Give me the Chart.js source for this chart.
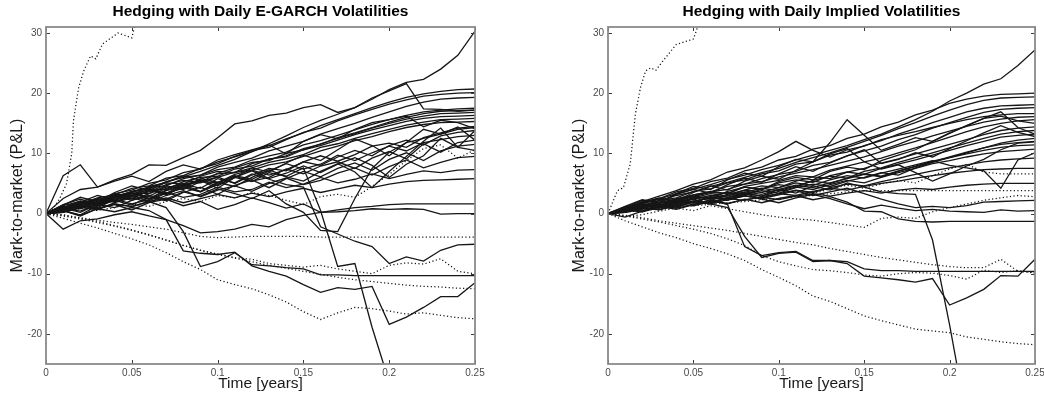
<!DOCTYPE html>
<html>
<head>
<meta charset="utf-8">
<script src="https://cdn.jsdelivr.net/npm/chart.js@4.4.0/dist/chart.umd.min.js"></script>
<style>
  html, body { margin: 0; padding: 0; background: #fff; }
  #wrap { position: relative; width: 1044px; height: 396px; overflow: hidden; }
  canvas { position: absolute; top: 0; }
  #egarch { left: 0; }
  #implied { left: 522px; }
</style>
</head>
<body>
<div id="wrap">
  <canvas id="egarch" width="522" height="396"></canvas>
  <canvas id="implied" width="522" height="396"></canvas>
</div>
<script>
// Daily sampling grid (years) shared by the hedging paths
const timeGrid = [0,0.01,0.02,0.03,0.04,0.05,0.06,0.07,0.08,0.09,0.1,0.11,0.12,0.13,0.14,0.15,0.16,0.17,0.18,0.19,0.2,0.21,0.22,0.23,0.24,0.25];
const timeTicks = [0, 0.05, 0.1, 0.15, 0.2, 0.25];
const timeTickLabels = ['0', '0.05', '0.1', '0.15', '0.2', '0.25'];
const pnlTicks = [-20, -10, 0, 10, 20, 30];
const pnlTickLabels = ['-20', '-10', '0', '10', '20', '30'];

// Mark-to-market P&L paths, E-GARCH volatility hedge (solid lines)
const egarchSolid = [
  [0,0.8,1.5,2.3,2.8,3.6,4.4,5.2,6.1,7.0,8.0,9.0,10.3,11.6,12.9,14.3,15.5,16.5,17.6,19.0,20.6,21.8,22.3,24.0,26.3,30.3],
  [0,2.5,4.0,4.4,5.6,6.5,8.1,8.0,9.3,10.5,12.6,14.9,15.4,16.3,16.7,17.6,18.1,16.8,17.6,19.2,20.4,21.6,17.4,17.3,17.0,17.2],
  [0,6.3,8.1,4.4,5.4,6.2,5.3,7.0,8.1,7.4,8.9,9.8,10.6,11.4,9.9,12.0,13.1,12.4,14.0,15.1,15.6,16.2,14.4,15.5,15.1,14.1],
  [0,0.6,1.5,2.2,3.3,3.9,5.0,5.6,6.8,7.4,8.6,9.4,10.3,11.3,12.4,13.4,14.6,15.6,16.6,17.6,18.5,19.3,19.9,20.3,20.6,20.7],
  [0,1.0,1.6,2.6,3.1,4.2,4.6,5.9,6.3,7.5,8.3,9.5,10.5,11.0,12.3,13.5,14.2,15.4,16.4,17.3,18.2,18.9,19.5,19.8,20.0,20.1],
  [0,0.4,1.4,1.7,2.9,3.6,4.1,5.3,6.0,6.4,7.7,8.5,9.2,10.4,11.2,12.0,13.2,14.1,15.0,16.0,16.9,17.8,18.5,19.0,19.2,19.3],
  [0,0.8,1.2,2.3,2.6,3.7,4.3,4.6,5.8,6.4,7.3,7.7,8.9,9.6,10.2,11.4,12.1,13.0,13.9,14.8,15.6,16.3,16.9,17.2,17.4,17.5],
  [0,1.3,2.0,1.8,3.2,3.0,4.5,5.1,4.9,6.2,7.0,6.8,8.3,9.0,9.6,10.8,11.5,12.6,13.4,14.3,15.2,16.0,16.6,17.0,17.1,17.2],
  [0,0.2,0.9,1.9,2.0,2.9,3.6,4.8,5.5,5.2,6.7,7.6,8.5,8.8,10.0,10.6,11.6,12.5,13.3,14.2,15.0,15.7,16.2,16.6,16.7,16.8],
  [0,0.9,1.1,1.6,2.7,2.5,3.9,4.0,5.3,6.0,6.2,7.4,7.9,9.1,9.4,10.6,11.3,12.2,13.1,13.9,14.6,15.3,15.8,16.1,16.2,16.3],
  [0,0.5,1.7,2.4,2.1,3.4,3.3,4.4,4.7,5.7,6.6,6.8,7.6,8.5,9.1,9.8,11.0,11.6,12.5,13.3,14.0,14.7,15.2,15.6,15.7,15.8],
  [0,1.1,0.8,2.0,2.8,3.1,2.9,4.2,5.0,5.1,6.0,6.9,7.2,8.1,8.6,9.5,10.4,11.2,12.1,12.8,13.6,14.3,14.8,15.1,15.2,15.3],
  [0,0.7,2.0,1.4,2.2,3.3,3.9,3.1,4.6,5.4,5.1,6.5,7.2,6.4,7.3,8.6,9.6,8.7,9.8,11.2,11.7,11.0,12.6,13.4,14.2,14.5],
  [0,1.2,0.9,1.8,3.0,2.2,3.3,4.6,4.0,5.3,6.1,5.0,6.4,7.5,7.1,8.6,8.0,9.4,10.5,9.6,11.3,12.2,11.4,12.9,13.5,13.8],
  [0,0.3,1.6,2.5,1.9,2.8,4.1,3.4,4.2,5.8,5.2,6.3,5.7,7.1,8.3,7.4,8.2,9.7,8.8,10.1,11.2,10.4,11.8,12.3,12.8,13.0],
  [0,1.5,2.4,1.6,2.7,3.5,2.4,3.8,4.5,3.6,5.0,6.2,5.4,6.0,7.4,6.6,7.9,8.6,7.5,9.2,10.3,9.1,11.6,10.2,11.8,12.2],
  [0,0.5,-0.2,1.3,2.2,1.4,2.8,2.1,3.5,4.4,3.2,4.7,5.6,4.3,5.8,7.0,6.1,7.5,8.4,7.2,9.0,10.1,8.8,10.4,11.2,11.5],
  [0,1.0,1.9,3.0,2.3,3.6,4.2,3.1,4.5,5.6,4.6,6.0,7.1,5.8,6.7,7.9,6.8,8.2,9.3,8.0,6.0,8.2,9.6,12.5,11.0,10.5],
  [0,0.2,1.1,0.6,1.8,2.6,1.9,3.0,3.8,2.8,3.9,4.6,3.7,5.0,5.9,4.8,5.5,6.7,7.6,6.4,7.8,8.9,7.6,8.5,9.3,9.5],
  [0,0.9,0.4,1.5,2.4,1.6,2.3,3.5,2.7,3.2,4.4,3.6,4.0,5.2,4.3,4.9,6.0,5.1,5.7,6.6,5.8,6.5,7.1,6.8,7.2,7.3],
  [0,0.4,1.3,0.8,1.6,1.1,2.0,2.6,1.8,2.5,3.2,2.6,3.4,2.8,3.6,4.2,3.5,4.1,4.7,4.3,4.9,5.3,5.5,5.6,5.7,5.8],
  [0,0.6,1.8,1.2,2.6,3.4,2.5,3.9,4.8,3.7,5.2,4.5,6.0,7.3,6.1,5.4,7.0,8.3,6.9,4.3,7.0,9.5,12.0,14.2,11.0,13.8],
  [0,1.4,2.7,2.0,3.5,4.6,3.8,5.2,6.3,5.5,4.2,6.0,7.6,6.9,8.4,9.7,8.8,10.6,12.4,11.3,9.6,11.8,14.0,13.2,14.4,12.2],
  [0,0.9,0.2,1.5,1.0,2.2,3.0,2.4,3.6,2.9,4.1,3.3,2.5,3.8,1.6,0.2,-2.8,-3.0,2.5,7.5,10.2,11.8,12.5,13.2,14.0,14.3],
  [0,0.5,-0.4,0.8,1.5,0.6,1.8,2.4,1.3,2.0,0.7,1.5,2.6,1.8,0.9,1.6,0.2,0.6,1.0,1.2,1.5,1.6,1.6,1.6,1.6,1.6],
  [0,-2.6,-1.2,-0.9,-0.2,0.3,-0.4,-1.0,-2.0,-3.2,-3.0,-2.6,-1.8,-2.2,-1.0,-0.3,0.2,0.3,0.5,0.8,0.7,0.8,0.7,-0.1,0.0,0.0],
  [0,0.5,1.4,1.0,2.3,3.0,2.1,3.4,4.3,3.6,4.8,6.0,5.3,6.8,6.2,7.6,0.5,-8.8,-8.3,-18.9,-28.0],
  [0,1.0,2.1,1.4,2.9,2.4,3.8,3.3,4.9,4.2,5.8,5.1,6.6,5.7,4.8,4.4,-2.2,-3.4,-4.6,-5.5,-8.3,-7.2,-7.9,-6.1,-5.2,-5.1],
  [0,0.3,1.0,0.8,1.6,1.2,2.0,1.0,-3.0,-8.8,-8.0,-6.5,-8.5,-8.7,-9.0,-9.2,-10.2,-10.2,-10.3,-10.3,-10.3,-10.3,-10.3,-10.3,-10.3,-10.3],
  [0,0.5,-0.3,0.8,0.3,1.0,0.5,-1.0,-6.2,-6.6,-6.8,-6.4,-8.7,-9.6,-10.4,-11.8,-13.1,-12.3,-12.6,-12.1,-18.4,-17.2,-15.6,-13.8,-13.8,-11.5]
];

// E-GARCH hedge paths drawn dotted
const egarchDotted = [
  [0,-0.3,-0.7,-1.1,-1.5,-1.8,-2.2,-2.6,-3.2,-3.8,-4.0,-3.9,-3.8,-3.8,-3.8,-3.8,-3.9,-3.9,-3.9,-3.9,-3.9,-3.9,-3.9,-3.9,-3.9,-3.9],
  [0,-0.2,-0.8,-1.3,-2.0,-2.7,-3.5,-4.4,-5.3,-6.1,-6.7,-7.3,-7.6,-8.3,-8.6,-8.9,-8.6,-9.2,-9.6,-10.0,-8.6,-8.2,-8.4,-7.5,-9.6,-10.0],
  [0,-0.8,-1.6,-2.4,-3.3,-4.2,-5.2,-6.5,-8.0,-9.3,-11.0,-11.8,-12.5,-13.5,-14.7,-16.3,-17.6,-16.5,-15.6,-15.8,-16.2,-16.7,-16.5,-16.9,-17.3,-17.5],
  [0,-0.4,-0.9,-1.5,-2.1,-2.8,-3.6,-4.4,-5.3,-6.1,-6.8,-7.4,-8.0,-8.6,-9.1,-9.6,-10.1,-10.6,-11.0,-11.3,-11.6,-11.9,-12.1,-12.2,-12.4,-12.5],
  [0,0.3,0.8,0.5,1.0,1.6,1.2,2.0,2.5,2.0,3.0,2.6,3.5,3.0,2.2,1.5,2.8,3.2,2.7,4.5,6.5,8.8,10.8,11.4,9.2,10.6]
];
// E-GARCH path that runs off the top early (own time stamps)
const egarchSpikeTime = [0,0.004,0.008,0.012,0.015,0.016,0.019,0.022,0.026,0.029,0.033,0.042,0.05,0.052,0.055];
const egarchSpikeValue = [0,0.8,2.5,5.0,10.0,15.4,20.9,23.7,26.2,25.7,28.2,30.0,29.2,31.5,34.0];

// Mark-to-market P&L paths, implied volatility hedge (solid lines)
const impliedSolid = [
  [0,0.8,1.6,2.4,3.3,4.0,4.8,5.7,6.4,7.3,8.0,8.9,9.7,10.5,11.3,12.3,13.2,14.4,15.6,17.0,18.7,20.0,21.5,22.4,24.6,27.2],
  [0,0.9,1.9,2.5,3.6,4.2,5.3,5.9,7.1,7.7,8.9,9.5,10.7,11.3,12.5,13.2,14.4,15.2,16.4,17.2,18.3,19.0,19.5,19.8,19.9,20.0],
  [0,0.8,2.0,2.9,3.8,4.9,5.6,6.9,7.6,8.9,10.3,12.0,10.5,9.4,10.6,11.2,12.3,13.0,13.6,14.3,15.0,15.6,16.1,16.4,16.6,16.6],
  [0,1.0,2.2,1.8,3.3,4.5,4.0,5.6,6.7,6.2,7.8,9.0,8.6,11.8,15.6,13.0,10.5,11.5,12.6,12.0,13.4,14.6,15.8,16.9,14.3,13.2],
  [0,0.6,1.4,2.1,3.0,3.6,4.5,5.2,6.0,6.8,7.5,8.5,9.3,10.1,11.0,12.0,13.0,14.1,15.1,16.2,17.2,18.1,18.8,19.2,19.3,19.4],
  [0,0.8,1.2,2.2,2.6,3.7,4.1,5.1,5.6,6.6,7.1,8.2,8.6,9.7,10.2,11.3,12.1,13.2,14.1,15.1,16.0,16.9,17.5,17.9,18.0,18.1],
  [0,0.4,1.3,1.6,2.5,3.1,3.6,4.5,4.9,5.8,6.5,7.0,8.0,8.5,9.6,10.4,11.2,12.3,13.1,14.2,15.1,16.0,16.8,17.3,17.5,17.6],
  [0,0.7,1.5,1.1,2.3,2.9,2.5,3.7,4.4,4.0,5.3,6.0,5.6,7.0,7.7,7.3,8.8,9.7,10.6,12.0,13.3,14.6,15.8,16.2,15.4,15.0],
  [0,0.5,1.0,1.8,2.3,2.9,3.6,4.0,4.9,5.3,6.1,6.7,7.3,8.0,8.7,9.4,10.3,11.2,12.0,12.9,13.7,14.5,15.2,15.7,16.0,16.1],
  [0,0.9,1.6,1.3,2.4,2.8,3.5,3.3,4.5,5.0,5.5,6.3,6.1,7.2,7.9,8.6,9.2,10.1,10.9,11.8,12.7,13.6,14.4,15.0,15.4,15.6],
  [0,0.3,1.1,1.9,1.6,2.6,3.3,2.9,3.9,4.6,4.3,5.4,6.1,5.8,6.9,7.5,8.4,9.1,9.9,10.7,11.5,12.3,13.1,13.8,14.2,14.4],
  [0,0.6,0.4,1.4,2.2,1.9,2.8,3.5,3.0,4.1,4.8,4.4,5.5,6.2,5.9,7.0,7.6,8.5,9.3,10.1,10.9,11.7,12.5,13.2,13.6,13.8],
  [0,1.1,1.7,2.4,2.0,3.1,3.7,3.3,4.4,4.0,5.1,5.6,5.2,6.3,6.9,6.5,7.5,8.2,8.9,9.7,10.5,11.3,12.0,12.7,13.0,13.2],
  [0,0.2,0.8,1.5,1.2,2.0,2.7,2.3,3.2,3.8,3.4,4.3,4.9,4.5,5.4,6.0,6.8,6.4,7.6,8.5,9.3,10.1,10.9,11.7,12.2,12.5],
  [0,0.8,1.4,1.0,1.9,2.6,2.2,3.0,3.6,3.2,4.0,4.7,4.3,5.1,5.8,6.5,6.1,7.0,7.8,8.6,9.4,10.2,10.9,11.5,11.8,12.0],
  [0,0.5,1.2,1.9,1.6,2.4,3.0,2.7,3.5,4.2,3.8,4.6,5.4,5.0,5.9,6.6,6.2,7.1,7.9,8.7,9.3,9.9,10.5,11.0,11.3,11.4],
  [0,0.4,0.9,0.7,1.5,2.1,1.8,2.6,3.3,2.9,3.7,4.4,4.0,4.8,5.5,5.1,6.0,6.8,7.5,8.3,8.8,9.4,9.9,10.3,10.5,10.7],
  [0,0.7,1.5,1.2,2.0,2.8,2.4,3.2,3.9,3.5,4.3,5.1,4.7,5.6,6.3,5.9,6.7,7.4,8.1,8.8,8.0,7.6,7.1,4.2,8.9,10.1],
  [0,0.3,0.9,0.6,1.3,1.9,1.6,2.3,2.9,2.6,3.3,3.9,3.5,4.3,4.9,4.6,5.3,5.9,6.5,7.1,7.6,8.1,8.6,8.9,9.1,9.2],
  [0,0.6,0.3,1.0,1.6,1.3,2.0,2.5,2.2,2.8,3.3,3.0,3.7,4.2,3.9,4.5,5.0,5.4,5.9,6.3,6.7,7.0,7.3,7.4,7.5,7.5],
  [0,0.2,0.7,1.2,0.9,1.5,2.0,1.7,2.3,2.7,2.3,2.9,3.3,2.9,3.4,3.8,3.4,3.9,4.2,4.0,4.4,4.7,4.9,5.0,5.0,5.0],
  [0,1.2,2.3,1.8,3.2,4.0,3.4,4.8,5.9,5.2,6.6,7.8,7.0,8.4,9.6,10.6,8.3,9.0,10.1,9.4,10.8,12.1,13.4,14.6,13.5,12.8],
  [0,0.6,1.8,2.6,2.1,3.5,4.6,3.9,5.4,6.2,5.7,7.2,8.6,9.9,10.8,8.6,7.4,8.1,6.8,5.4,6.6,7.9,9.0,10.6,11.7,11.9],
  [0,0.6,1.3,0.9,1.8,2.4,1.7,2.6,3.3,2.5,3.1,3.8,3.0,3.6,4.2,3.3,2.4,1.6,1.0,1.2,1.0,1.3,1.9,2.0,2.1,2.2],
  [0,0.3,1.0,1.6,1.1,2.0,2.7,2.2,3.0,2.4,1.8,2.6,3.2,2.5,1.6,0.8,1.4,0.9,0.5,0.7,0.4,0.3,0.2,0.6,0.4,0.5],
  [0,-0.6,0.4,1.2,0.7,1.5,2.2,1.6,2.4,1.8,2.5,3.0,2.3,2.8,1.9,0.4,0.3,-0.9,-1.3,-1.4,-1.3,-1.3,-1.3,-1.3,-1.3,-1.3],
  [0,0.7,1.5,1.1,2.2,1.7,2.8,2.3,3.4,2.9,4.0,3.4,4.6,3.9,5.1,4.4,3.6,3.3,3.2,-4.4,-18.5,-34.0],
  [0,0.5,1.2,1.0,2.0,1.5,2.3,1.5,-5.5,-7.0,-6.5,-6.3,-7.8,-7.8,-8.0,-9.2,-9.5,-9.5,-9.6,-9.6,-9.6,-9.6,-9.6,-9.6,-9.6,-9.6],
  [0,0.8,0.3,1.4,0.9,2.1,1.6,1.0,-3.8,-7.3,-6.6,-6.4,-8.0,-7.8,-8.3,-10.4,-10.7,-11.0,-11.4,-10.8,-15.2,-14.0,-12.6,-10.3,-10.4,-7.6]
];

// Implied volatility hedge paths drawn dotted
const impliedDotted = [
  [0,0.4,0.9,0.6,1.3,1.9,1.5,2.3,2.9,2.4,3.2,3.8,3.3,4.1,4.7,4.2,4.9,5.5,5.1,6.3,7.4,8.2,6.9,6.6,6.6,6.6],
  [0,0.2,0.5,0.8,1.0,1.3,1.5,1.8,2.0,2.3,2.5,2.8,3.0,3.3,3.6,3.8,3.8,3.8,3.8,3.8,3.8,3.8,3.8,3.8,3.8,3.8],
  [0,-0.5,-0.2,0.4,0.9,0.5,1.3,0.8,0.3,-0.2,-0.6,-0.9,-1.1,-1.5,-1.9,-2.3,-0.8,-0.6,-0.8,0.3,1.0,1.6,2.2,2.6,3.0,2.8],
  [0,-0.3,-0.7,-1.2,-1.6,-2.0,-2.4,-2.8,-3.3,-3.8,-4.3,-4.8,-5.2,-5.8,-6.3,-6.8,-7.3,-7.7,-8.1,-8.5,-8.8,-9.0,-9.0,-7.6,-9.6,-9.9],
  [0,-0.4,-0.9,-1.4,-2.0,-2.6,-3.3,-4.2,-5.3,-7.0,-8.0,-8.7,-9.3,-9.5,-9.8,-10.2,-10.4,-10.0,-9.8,-9.9,-10.3,-10.9,-9.4,-9.8,-9.5,-9.8],
  [0,-1.2,-2.2,-3.2,-4.0,-5.0,-5.8,-6.7,-7.8,-9.3,-10.6,-12.0,-13.7,-14.6,-15.8,-17.0,-17.8,-18.5,-19.2,-19.5,-19.8,-20.5,-20.9,-21.3,-21.6,-21.8]
];
// Implied-vol path that runs off the top early (own time stamps)
const impliedSpikeTime = [0,0.0055,0.009,0.013,0.015,0.016,0.019,0.022,0.025,0.028,0.032,0.04,0.05,0.052,0.055];
const impliedSpikeValue = [0,3.8,4.3,8.2,13.7,16.5,20.9,23.7,24.2,23.8,25.3,28.1,29.0,30.6,34.0];

Chart.defaults.font.family = "'Liberation Sans', Arial, Helvetica, sans-serif";

function lineSet(times, values, dotted) {
  return {
    data: values.map((v, i) => ({ x: times[i], y: v })),
    borderColor: dotted ? '#151515' : '#161616',
    borderWidth: dotted ? 1.25 : 1.3,
    borderDash: dotted ? [1.2, 2.4] : [],
    pointRadius: 0,
    tension: 0,
    fill: false
  };
}

function buildDatasets(solid, dotted, spikeT, spikeV) {
  const sets = [];
  solid.forEach(v => sets.push(lineSet(timeGrid, v, false)));
  dotted.forEach(v => sets.push(lineSet(timeGrid, v, true)));
  sets.push(lineSet(spikeT, spikeV, true));
  return sets;
}

// Axes box with inward tick marks on all four sides
const axesBox = {
  id: 'axesBox',
  afterDatasetsDraw(chart) {
    const { ctx, chartArea: a, scales: { x, y } } = chart;
    ctx.save();
    ctx.strokeStyle = '#3a3a3a';
    ctx.lineWidth = 1;
    ctx.beginPath();
    x.ticks.forEach(t => {
      const px = Math.round(x.getPixelForValue(t.value)) + 0.5;
      ctx.moveTo(px, a.bottom); ctx.lineTo(px, a.bottom - 4);
      ctx.moveTo(px, a.top); ctx.lineTo(px, a.top + 4);
    });
    y.ticks.forEach(t => {
      const py = Math.round(y.getPixelForValue(t.value)) + 0.5;
      ctx.moveTo(a.left, py); ctx.lineTo(a.left + 4, py);
      ctx.moveTo(a.right, py); ctx.lineTo(a.right - 4, py);
    });
    ctx.stroke();
    ctx.strokeStyle = '#8a8a8a';
    ctx.lineWidth = 1.8;
    ctx.strokeRect(a.left, a.top, a.right - a.left, a.bottom - a.top);
    ctx.restore();
  }
};

function makeChart(canvasId, titleText, datasets, padLeft, padRight) {
  return new Chart(document.getElementById(canvasId), {
    type: 'line',
    data: { datasets },
    plugins: [axesBox],
    options: {
      responsive: false,
      animation: false,
      devicePixelRatio: 1,
      events: [],
      layout: { padding: { left: padLeft, right: padRight, top: 0, bottom: 0 } },
      plugins: {
        legend: { display: false },
        tooltip: { enabled: false },
        title: {
          display: true,
          fullSize: false,
          text: titleText,
          color: '#000',
          font: { size: 15.5, weight: 'bold' },
          padding: { top: 2.5, bottom: 5.9 }
        }
      },
      scales: {
        x: {
          type: 'linear',
          min: 0,
          max: 0.25,
          grid: { display: false, drawTicks: false },
          border: { display: false },
          afterBuildTicks: s => { s.ticks = timeTicks.map(v => ({ value: v })); },
          afterFit: s => { s.height = 32; s.paddingLeft = 0; s.paddingRight = 0; },
          ticks: {
            autoSkip: false,
            maxRotation: 0,
            padding: 3,
            color: '#4a4a4a',
            font: { size: 10 },
            callback: (v, i) => timeTickLabels[i]
          },
          title: {
            display: true,
            text: 'Time [years]',
            color: '#1a1a1a',
            font: { size: 15.5 },
            padding: { top: 0, bottom: 2.7 }
          }
        },
        y: {
          type: 'linear',
          min: -25,
          max: 31,
          grid: { display: false, drawTicks: false },
          border: { display: false },
          afterBuildTicks: s => { s.ticks = pnlTicks.map(v => ({ value: v })); },
          afterFit: s => { s.width = 46; s.paddingTop = 0; s.paddingBottom = 0; },
          ticks: {
            autoSkip: false,
            padding: 4,
            color: '#4a4a4a',
            font: { size: 10 },
            callback: (v, i) => pnlTickLabels[i]
          },
          title: {
            display: true,
            text: 'Mark-to-market (P&L)',
            color: '#1a1a1a',
            font: { size: 16 },
            padding: { top: 8.4, bottom: 0 }
          }
        }
      }
    }
  });
}

makeChart('egarch', 'Hedging with Daily E-GARCH Volatilities',
  buildDatasets(egarchSolid, egarchDotted, egarchSpikeTime, egarchSpikeValue), 0, 47);
makeChart('implied', 'Hedging with Daily Implied Volatilities',
  buildDatasets(impliedSolid, impliedDotted, impliedSpikeTime, impliedSpikeValue), 40, 9);
</script>
</body>
</html>
